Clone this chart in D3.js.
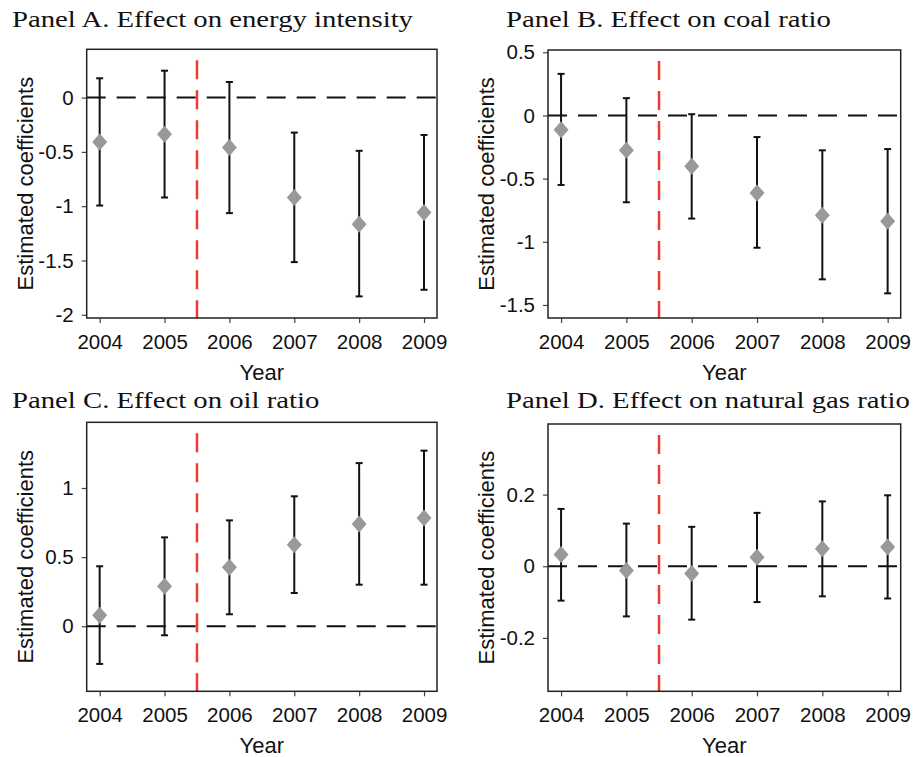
<!DOCTYPE html>
<html>
<head>
<meta charset="utf-8">
<script src="https://cdn.jsdelivr.net/npm/d3@7"></script>
<style>
  body { margin: 0; background: #fff; }
  svg { display: block; }
</style>
</head>
<body>
<div id="chart"></div>
<script>
// event-study coefficients, 4 panels, 95% CI whiskers + grey diamonds

const years = [2004, 2005, 2006, 2007, 2008, 2009];

const energyEst = [-0.41, -0.337, -0.46, -0.92, -1.166, -1.058];
const energyLo  = [-0.994, -0.92, -1.064, -1.515, -1.831, -1.77];
const energyHi  = [0.178, 0.248, 0.144, -0.322, -0.49, -0.344];

const coalEst = [-0.113, -0.276, -0.403, -0.613, -0.789, -0.837];
const coalLo  = [-0.55, -0.687, -0.816, -1.047, -1.297, -1.408];
const coalHi  = [0.329, 0.137, 0.01, -0.171, -0.276, -0.266];

const oilEst = [0.08, 0.289, 0.427, 0.59, 0.74, 0.783];
const oilLo  = [-0.272, -0.065, 0.087, 0.241, 0.301, 0.301];
const oilHi  = [0.434, 0.643, 0.766, 0.94, 1.18, 1.27];

const gasEst = [0.033, -0.012, -0.02, 0.025, 0.049, 0.054];
const gasLo  = [-0.096, -0.14, -0.149, -0.1, -0.084, -0.09];
const gasHi  = [0.16, 0.119, 0.11, 0.149, 0.181, 0.198];

const energyTicks = [-2, -1.5, -1, -0.5, 0];
const coalTicks   = [-1.5, -1, -0.5, 0, 0.5];
const oilTicks    = [0, 0.5, 1];
const gasTicks    = [-0.2, 0, 0.2];

const titles = [
    "Panel A. Effect on energy intensity",
    "Panel B. Effect on coal ratio",
    "Panel C. Effect on oil ratio",
    "Panel D. Effect on natural gas ratio"
];

const policyYear = 2005.5;
const xDomain = [2003.8, 2009.2];

// layout of each panel (plot box in px)
const panels = [
    {est: energyEst, lo: energyLo, hi: energyHi, ticks: energyTicks, yDomain: [-2.03, 0.445],
     left: 86.7, top: 49.3, w: 350.3, h: 268.7, tx: 12, ty: 27},
    {est: coalEst, lo: coalLo, hi: coalHi, ticks: coalTicks, yDomain: [-1.603, 0.518],
     left: 548, top: 50, w: 352.7, h: 268, tx: 506, ty: 27},
    {est: oilEst, lo: oilLo, hi: oilHi, ticks: oilTicks, yDomain: [-0.47, 1.475],
     left: 86.7, top: 422.3, w: 350.3, h: 269, tx: 12, ty: 408},
    {est: gasEst, lo: gasLo, hi: gasHi, ticks: gasTicks, yDomain: [-0.349, 0.397],
     left: 548, top: 424, w: 352.7, h: 267.3, tx: 506, ty: 408}
];

const width = 917, height = 757;

const svg = d3.select("#chart")
    .append("svg")
        .attr("width", width)
        .attr("height", height);

svg.append("rect")
    .attr("width", width)
    .attr("height", height)
    .attr("fill", "#fff");

const titleFont = "'Liberation Serif', 'Times New Roman', serif";
const sansFont = "'Liberation Sans', Arial, Helvetica, sans-serif";

// titles: stretch a Times-like face to the wider Computer Modern look
let titleNodes = [];
panels.forEach((p, i) => {
    let t = svg.append("text")
        .attr("x", p.tx)
        .attr("y", p.ty)
        .style("font-family", titleFont)
        .style("font-size", "23px")
        .attr("fill", "#111")
        .text(titles[i]);
    titleNodes.push(t);
});
let k = 401 / titleNodes[0].node().getComputedTextLength();
titleNodes.forEach(t => {
    t.attr("textLength", t.node().getComputedTextLength() * k)
     .attr("lengthAdjust", "spacingAndGlyphs");
});

panels.forEach((p, i) => {
    let x = d3.scaleLinear().domain(xDomain).range([p.left, p.left + p.w]);
    let y = d3.scaleLinear().domain(p.yDomain).range([p.top + p.h, p.top]);

    let g = svg.append("g");

    // zero reference
    g.append("line")
        .attr("x1", p.left).attr("x2", p.left + p.w)
        .attr("y1", y(0)).attr("y2", y(0))
        .attr("stroke", "#111")
        .attr("stroke-width", 2)
        .attr("stroke-dasharray", "19,11");

    // policy line
    g.append("line")
        .attr("x1", x(policyYear)).attr("x2", x(policyYear))
        .attr("y1", p.top).attr("y2", p.top + p.h)
        .attr("stroke", "#ec3b30")
        .attr("stroke-width", 2.5)
        .attr("stroke-dasharray", "19,11")
        .attr("stroke-dashoffset", 19);

    // error bars
    let bars = g.selectAll(".bar")
        .data(years)
        .enter()
        .append("g");

    bars.append("line")
        .attr("x1", d => x(d)).attr("x2", d => x(d))
        .attr("y1", (d, j) => y(p.lo[j]))
        .attr("y2", (d, j) => y(p.hi[j]))
        .attr("stroke", "#111")
        .attr("stroke-width", 2);

    [p.lo, p.hi].forEach(arr => {
        bars.append("line")
            .attr("x1", d => x(d) - 3.5).attr("x2", d => x(d) + 3.5)
            .attr("y1", (d, j) => y(arr[j]))
            .attr("y2", (d, j) => y(arr[j]))
            .attr("stroke", "#111")
            .attr("stroke-width", 2);
    });

    bars.append("path")
        .attr("d", (d, j) => {
            let cx = x(d), cy = y(p.est[j]);
            return "M" + cx + "," + (cy - 8.5) + "L" + (cx + 7.5) + "," + cy +
                   "L" + cx + "," + (cy + 8.5) + "L" + (cx - 7.5) + "," + cy + "Z";
        })
        .attr("fill", "#999");

    // axes
    let xAxis = g.append("g")
        .attr("transform", "translate(0," + (p.top + p.h) + ")")
        .call(d3.axisBottom(x).tickValues(years).tickFormat(d3.format("d"))
            .tickSize(5).tickSizeOuter(0).tickPadding(11));
    let yAxis = g.append("g")
        .attr("transform", "translate(" + p.left + ",0)")
        .call(d3.axisLeft(y).tickValues(p.ticks).tickFormat(d => String(d))
            .tickSize(5).tickSizeOuter(0).tickPadding(8));

    [xAxis, yAxis].forEach(a => {
        a.select(".domain").remove();
        a.selectAll("line").attr("stroke", "#444").attr("stroke-width", 1.2);
        a.selectAll("text")
            .style("font-family", sansFont)
            .style("font-size", "20.5px")
            .attr("fill", "#111");
    });

    // frame
    g.append("rect")
        .attr("x", p.left).attr("y", p.top)
        .attr("width", p.w).attr("height", p.h)
        .attr("fill", "none")
        .attr("stroke", "#222")
        .attr("stroke-width", 1.5);

    // axis titles
    g.append("text")
        .attr("x", p.left + p.w / 2)
        .attr("y", p.top + p.h + 62)
        .style("text-anchor", "middle")
        .style("font-family", sansFont)
        .style("font-size", "22px")
        .attr("fill", "#111")
        .text("Year");

    g.append("text")
        .attr("transform", "translate(" + (p.left - 54) + "," + (p.top + p.h / 2) + ") rotate(-90)")
        .style("text-anchor", "middle")
        .style("font-family", sansFont)
        .style("font-size", "22px")
        .attr("fill", "#111")
        .text("Estimated coefficients");
});
</script>
</body>
</html>
